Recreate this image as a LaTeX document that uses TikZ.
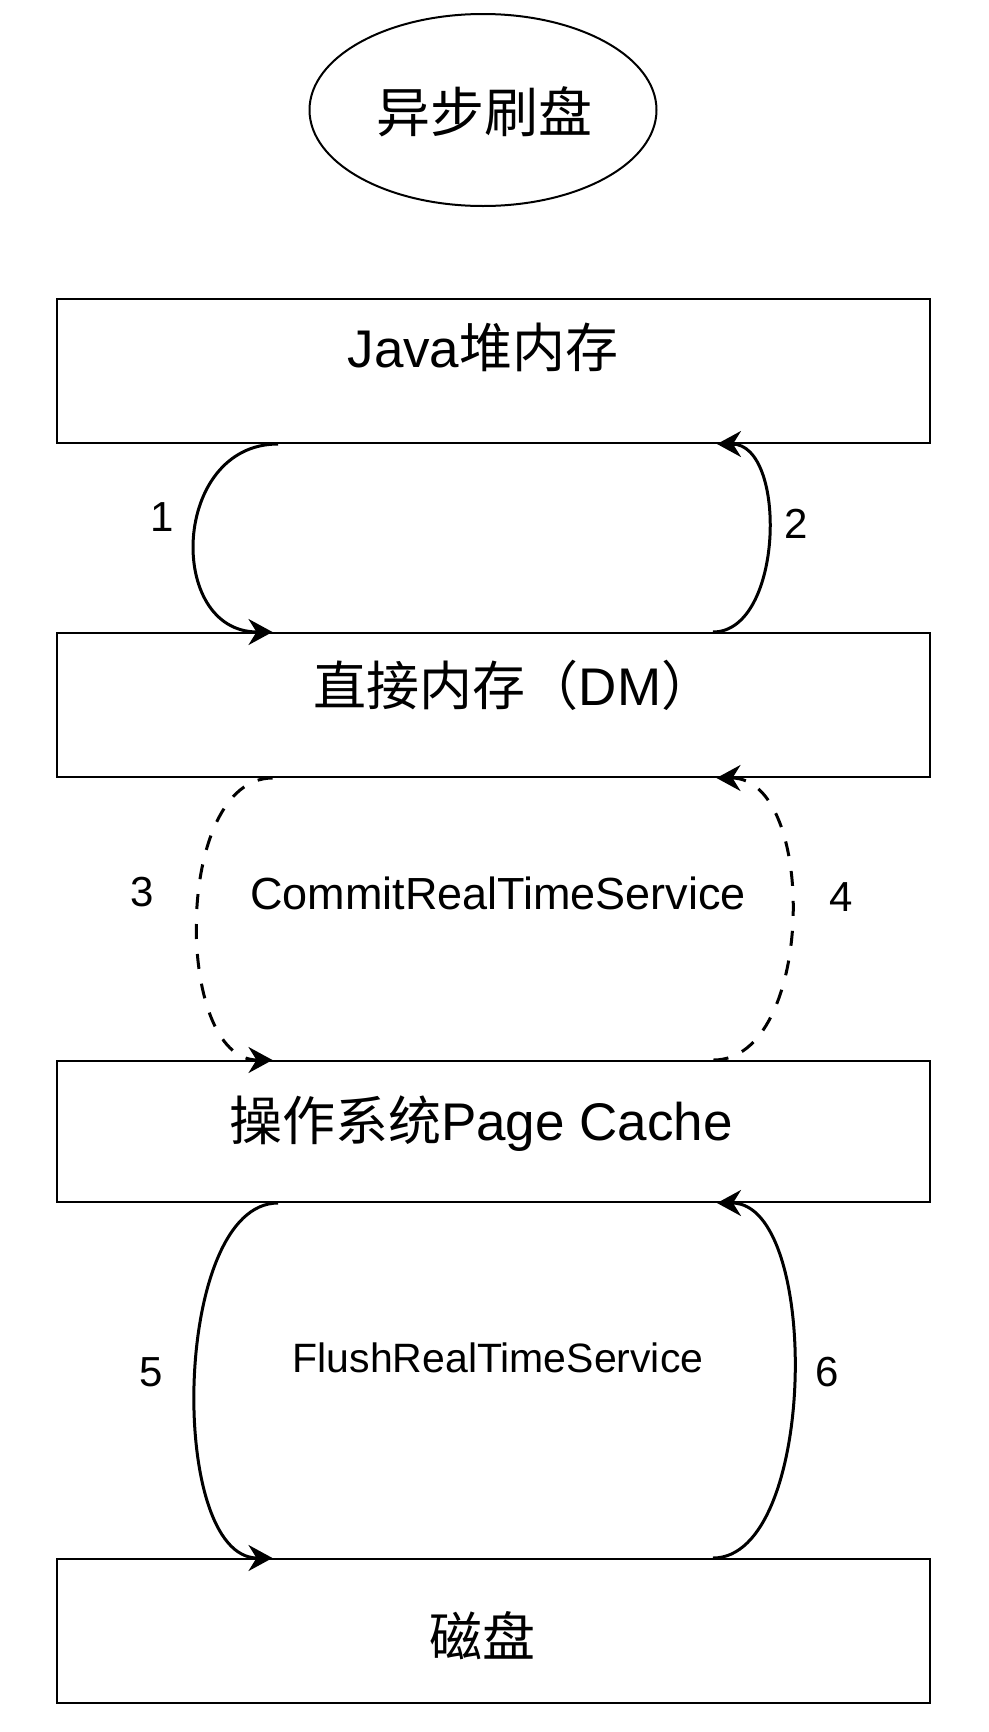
\documentclass[tikz,border=0pt]{standalone}
\usepackage{fontspec}
\setmainfont{Liberation Sans}
\newfontfamily\cjk{Noto Sans CJK SC}
\usetikzlibrary{arrows.meta,shapes.geometric}
\begin{document}
\begin{tikzpicture}[x=1pt,y=-1pt,
  layer/.style={draw=black,line width=2pt,minimum width=873pt,inner sep=0pt},
  boxtext/.style={inner sep=0pt,font=\fontsize{53}{60}\selectfont},
  numlabel/.style={inner sep=0pt,font=\fontsize{42}{48}\selectfont},
  svclabel/.style={inner sep=0pt},
  link/.style={line width=3pt,-{Stealth[length=24pt,width=26pt,inset=8pt]}},
  dlink/.style={link,dash pattern=on 15pt off 15pt}]
\useasboundingbox (0,0) rectangle (988,1732);
\fill[white] (0,0) rectangle (988,1732);

% title ellipse
\node[draw=black,line width=2pt,ellipse,minimum width=347pt,minimum height=192pt,inner sep=0pt] (title) at (483,110) {};
\node[boxtext,font=\fontsize{54}{60}\selectfont] (titleT) at (484,112) {\cjk 异步刷盘};

% layers
\node[layer,minimum height=144pt] (java) at (493.5,371) {};
\node[layer,minimum height=144pt] (dm) at (493.5,705) {};
\node[layer,minimum height=141pt] (pc) at (493.5,1131.5) {};
\node[layer,minimum height=144pt] (disk) at (493.5,1631) {};

\node[boxtext] (javaT) at (483,347) {Java{\cjk 堆内存}};
\node[boxtext] (dmT) at (514,685) {{\cjk 直接内存（}DM{\cjk ）}};
\node[boxtext] (pcT) at (481,1124) {{\cjk 操作系统}Page Cache};
\node[boxtext] (diskT) at (482,1636) {\cjk 磁盘};

% service labels
\node[svclabel,font=\fontsize{45}{50}\selectfont] (commit) at (498,893) {CommitRealTimeService};
\node[svclabel,font=\fontsize{41}{46}\selectfont] (flush) at (498,1358) {FlushRealTimeService};

% step numbers
\node[numlabel] (n1) at (162,517) {1};
\node[numlabel] (n2) at (796,524) {2};
\node[numlabel] (n3) at (142,892) {3};
\node[numlabel] (n4) at (841,897) {4};
\node[numlabel] (n5) at (151,1372) {5};
\node[numlabel] (n6) at (827,1372) {6};

% connectors
\draw[link] ([xshift=-215.5pt]java.south) to[out=180,in=180,looseness=1.45] ([xshift=-221pt]dm.north);
\draw[link] ([xshift=219.5pt]dm.north) to[out=0,in=0,looseness=0.96] ([xshift=223.5pt]java.south);
\draw[dlink] ([xshift=-221pt]dm.south) to[out=180,in=180,looseness=0.9] ([xshift=-221pt]pc.north);
\draw[dlink] ([xshift=220pt]pc.north) to[out=0,in=0,looseness=0.92] ([xshift=223pt]dm.south);
\draw[link] ([xshift=-215.5pt]pc.south) to[out=180,in=180,looseness=0.76] ([xshift=-221pt]disk.north);
\draw[link] ([xshift=219.5pt]disk.north) to[out=0,in=0,looseness=0.75] ([xshift=223.5pt]pc.south);
\end{tikzpicture}
\end{document}
